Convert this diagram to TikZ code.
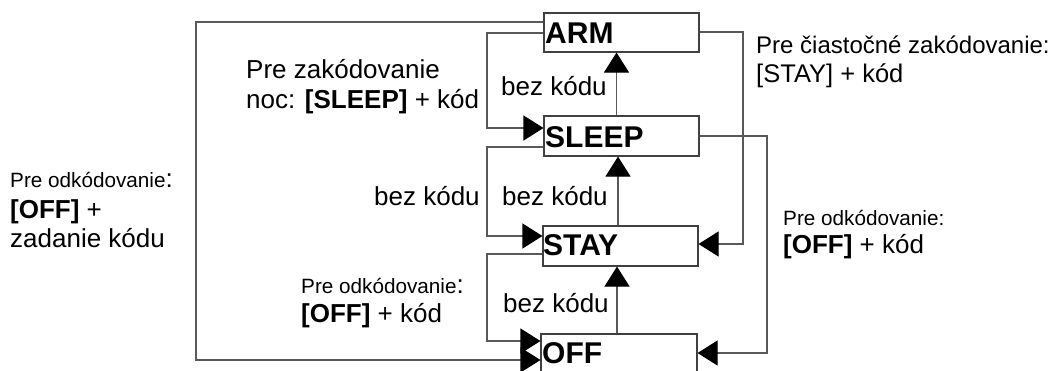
\documentclass[tikz,border=0pt]{standalone}
\usepackage{fontspec}
\setmainfont{Liberation Sans}
\usetikzlibrary{arrows.meta}
\begin{document}
\begin{tikzpicture}[x=1pt,y=-1pt,
  box/.style={draw=black!75, line width=1.1pt, inner sep=0pt, minimum width=155pt, minimum height=40pt},
  boxtxt/.style={anchor=base west, inner sep=0pt, font=\fontsize{30}{34}\selectfont\bfseries},
  conn/.style={draw=black!65, line width=1.1pt, -{Triangle[length=20pt,width=25pt,color=black]}},
  lbl/.style={anchor=base west, inner sep=0pt, font=\fontsize{26}{30}\selectfont},
  sm/.style={font=\fontsize{20.7}{24}\selectfont}]
\useasboundingbox (0,0) rectangle (1052,370);
\clip (0,0) rectangle (1052,370);

% boxes
\node[box, minimum height=39pt] (arm) at (621.5,32.5) {};
\node[box] (sleep) at (621.5,136) {};
\node[box] (stay) at (620.5,246) {};
\node[box, minimum width=156pt] (off) at (619,354) {};

\node[boxtxt] (armt) at (545,43) {ARM};
\node[boxtxt] (sleept) at (545,147) {SLEEP};
\node[boxtxt] (stayt) at (543,255) {STAY};
\node[boxtxt] (offt) at (542,363) {OFF};

% connectors
\draw[conn] ([yshift=10.5pt]arm.west) -| (196,200) |- ([yshift=-6pt]off.west);
\draw[conn] ([yshift=-0.5pt]arm.west) -| (487,80) |- ([yshift=8pt]sleep.west);
\draw[conn] ([yshift=-11pt]sleep.west) -| (487,190) |- ([yshift=10pt]stay.west);
\draw[conn] ([yshift=-8pt]stay.west) -| (487,300) |- ([yshift=13pt]off.west);
\draw[conn] ([yshift=0.5pt]arm.east) -| (743,140) |- ([yshift=2pt]stay.east);
\draw[conn] (sleep.east) -| (767,250) |- ([yshift=1pt]off.east);
\draw[conn] ([xshift=-5pt]sleep.north) -- ([xshift=-5pt]arm.south);
\draw[conn] ([xshift=-2.5pt]stay.north) -- ([xshift=-3.5pt]sleep.south);
\draw[conn] ([xshift=-2pt]off.north) -- ([xshift=-3.5pt]stay.south);

% labels
\node[lbl] (bk1) at (501,95) {bez kódu};
\node[lbl] (bk2) at (502,205) {bez kódu};
\node[lbl] (bk3) at (374,205) {bez kódu};
\node[lbl] (bk4) at (503,312) {bez kódu};

\node[lbl] (tl1) at (246,78) {Pre zakódovanie};
\node[lbl] (tl2) at (246,108) {noc: \textbf{[SLEEP]} + kód};

\node[lbl] (ol1) at (10,187) {{\fontsize{20.7}{24}\selectfont Pre odkódovanie}:};
\node[lbl] (ol2) at (10,218) {\textbf{[OFF]} +};
\node[lbl] (ol3) at (10,247) {zadanie kódu};

\node[lbl] (bl1) at (301,293) {{\fontsize{20.7}{24}\selectfont Pre odkódovanie}:};
\node[lbl] (bl2) at (301,322) {\textbf{[OFF]} + kód};

\node[lbl, font=\fontsize{24}{28}\selectfont] (tr1) at (756,53) {Pre čiastočné zakódovanie:};
\node[lbl, font=\fontsize{25.5}{28}\selectfont] (tr2) at (756,82) {[STAY] + kód};

\node[lbl, sm] (br1) at (783,225) {Pre odkódovanie:};
\node[lbl] (br2) at (783,253) {\textbf{[OFF]} + kód};
\end{tikzpicture}
\end{document}
